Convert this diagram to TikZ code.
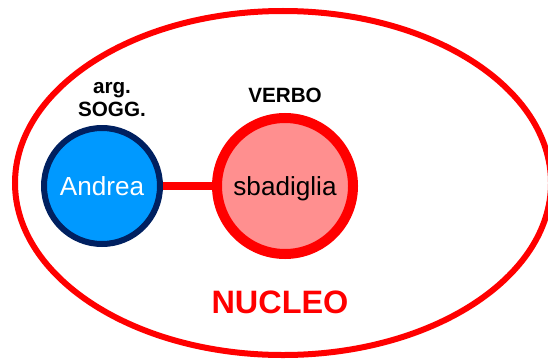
\documentclass[tikz,border=0pt]{standalone}
\usepackage{fontspec}
\setmainfont{Liberation Sans}
\usetikzlibrary{shapes.geometric}
\definecolor{nucleored}{HTML}{FF0000}
\definecolor{argblue}{HTML}{0099FF}
\definecolor{argnavy}{HTML}{002060}
\definecolor{verbpink}{HTML}{FF8F8F}
\tikzset{
  lbl/.style={font=\fontsize{15.5}{18}\selectfont\bfseries, inner sep=0pt, anchor=base},
  word/.style={circle, font=\fontsize{19.6}{23}\selectfont, inner sep=0pt, text depth=0pt},
}
\begin{document}
\begin{tikzpicture}[x=0.75pt, y=-0.75pt]
            \useasboundingbox (0,0) rectangle (548,360);
            \node[ellipse, draw=nucleored, line width=4.5pt, minimum width=402pt, minimum height=258pt] (nucleo) at (283,183) {};
            \node[word, draw=argnavy, fill=argblue, text=white, line width=4.5pt, minimum size=87pt] (andrea) at (102,186) {Andrea};
            \node[word, draw=nucleored, fill=verbpink, line width=7.5pt, minimum size=102pt] (sbad) at (285,186) {sbadiglia};
            \draw[nucleored, line width=6pt] (andrea) -- (sbad);
            \node[lbl] (arg) at (112,93) {arg.};
            \node[lbl] (sogg) at (112,116) {SOGG.};
            \node[lbl] (verbo) at (285,102) {VERBO};
            \node[lbl, text=nucleored, font=\fontsize{24.3}{28}\selectfont\bfseries] (nuc) at (280,313) {NUCLEO};
        \end{tikzpicture}
\end{document}
